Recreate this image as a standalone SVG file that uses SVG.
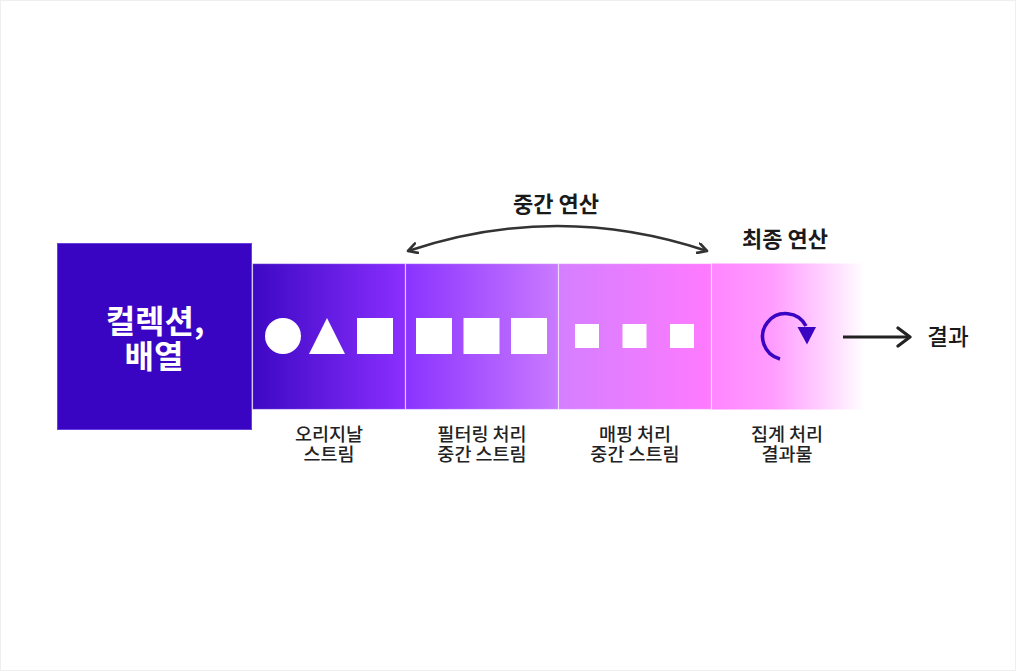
<svg xmlns="http://www.w3.org/2000/svg" width="1016" height="671" viewBox="0 0 1016 671">
  <defs>
    <linearGradient id="g1" x1="0" y1="0" x2="1" y2="0">
      <stop offset="0" stop-color="#3D08C4"/>
      <stop offset="1" stop-color="#8B2FFF"/>
    </linearGradient>
    <linearGradient id="g2" x1="0" y1="0" x2="1" y2="0">
      <stop offset="0" stop-color="#8A33FF"/>
      <stop offset="1" stop-color="#CA7AFF"/>
    </linearGradient>
    <linearGradient id="g3" x1="0" y1="0" x2="1" y2="0">
      <stop offset="0" stop-color="#D47FFF"/>
      <stop offset="1" stop-color="#FF7AFF"/>
    </linearGradient>
    <linearGradient id="g4" x1="0" y1="0" x2="1" y2="0">
      <stop offset="0" stop-color="#FF85FF"/>
      <stop offset="0.4" stop-color="#FF9CFF"/>
      <stop offset="0.75" stop-color="#FFD4FF"/>
      <stop offset="1" stop-color="#FFFFFF"/>
    </linearGradient>
    <marker id="chev" viewBox="0 0 12 12" refX="10" refY="6" markerWidth="12" markerHeight="12" markerUnits="userSpaceOnUse" orient="auto-start-reverse">
      <path d="M1,1 L10,6 L1,11" fill="none" stroke="#333" stroke-width="2.6" stroke-linecap="round" stroke-linejoin="round"/>
    </marker>
    <marker id="chev2" viewBox="0 0 16 22" refX="14" refY="11" markerWidth="16" markerHeight="22" markerUnits="userSpaceOnUse" orient="auto">
      <path d="M2,2 L14,11 L2,20" fill="none" stroke="#222" stroke-width="3.2" stroke-linecap="round" stroke-linejoin="round"/>
    </marker>
    <style>
      .seg { stroke: rgba(255,255,255,0.55); stroke-width: 1.2; }
      .shape { fill: #FFFFFF; }
      .lbl { font-family: "Noto Sans CJK KR", "Noto Sans", sans-serif; font-size: 18.5px; fill: #222222; text-anchor: middle; font-weight: 500; }
      .head { font-family: "Noto Sans CJK KR", "Noto Sans", sans-serif; font-size: 22px; fill: #1A1A1A; text-anchor: middle; font-weight: 700; }
      .res { font-family: "Noto Sans CJK KR", "Noto Sans", sans-serif; font-size: 22.5px; fill: #1A1A1A; text-anchor: middle; font-weight: 500; }
      .title { font-family: "Noto Sans CJK KR", "Noto Sans", sans-serif; font-size: 32px; fill: #FFFFFF; text-anchor: middle; font-weight: 700; }
    </style>
  </defs>

  <rect x="0.5" y="0.5" width="1015" height="670" fill="#FFFFFF" stroke="#EFEFEF" stroke-width="1"/>

  <g id="collection">
    <rect x="57.5" y="243.5" width="194" height="186" fill="#3A05C2" stroke="#6A3FE0" stroke-width="1"/>
    <text class="title" x="155" y="333">컬렉션,</text>
    <text class="title" x="154" y="368">배열</text>
  </g>

  <g id="original-stream">
    <rect class="seg" x="252.5" y="263.5" width="153" height="146" fill="url(#g1)"/>
    <circle class="shape" cx="283" cy="336" r="18"/>
    <polygon class="shape" points="327,318 345,354 309,354"/>
    <rect class="shape" x="357" y="318" width="36" height="36"/>
    <text class="lbl" x="329" y="441">오리지날</text>
    <text class="lbl" x="329" y="461">스트림</text>
  </g>

  <g id="filter-stream">
    <rect class="seg" x="405.5" y="263.5" width="153" height="146" fill="url(#g2)"/>
    <rect class="shape" x="416" y="318" width="36" height="36"/>
    <rect class="shape" x="463.5" y="318" width="36" height="36"/>
    <rect class="shape" x="511" y="318" width="36" height="36"/>
    <text class="lbl" x="482" y="441">필터링 처리</text>
    <text class="lbl" x="482" y="461">중간 스트림</text>
  </g>

  <g id="map-stream">
    <rect class="seg" x="558.5" y="263.5" width="153" height="146" fill="url(#g3)"/>
    <rect class="shape" x="575" y="324" width="24" height="24"/>
    <rect class="shape" x="622.5" y="324" width="24" height="24"/>
    <rect class="shape" x="670" y="324" width="24" height="24"/>
    <text class="lbl" x="635" y="441">매핑 처리</text>
    <text class="lbl" x="635" y="461">중간 스트림</text>
  </g>

  <g id="aggregate">
    <rect x="711.5" y="263.5" width="153" height="146" fill="url(#g4)"/>
    <line x1="711.5" y1="263.5" x2="711.5" y2="409.5" stroke="rgba(255,255,255,0.6)" stroke-width="1.2"/>
    <path d="M780,358.9 A23,23 0 1 1 806,326" fill="none" stroke="#3A05C2" stroke-width="3.6"/>
    <polygon points="797.5,327 816,327 807,344.5" fill="#3A05C2"/>
    <text class="lbl" x="787" y="441">집계 처리</text>
    <text class="lbl" x="787" y="461">결과물</text>
  </g>

  <g id="result">
    <text class="res" x="948" y="345">결과</text>
  </g>

  <g id="labels">
    <text class="head" x="556" y="212">중간 연산</text>
    <text class="head" x="785" y="247">최종 연산</text>
  </g>

  <g id="connectors">
    <path d="M408,251 Q557,201 707,251" fill="none" stroke="#333" stroke-width="2.6" marker-start="url(#chev)" marker-end="url(#chev)"/>
    <line x1="843" y1="337" x2="910" y2="337" stroke="#222" stroke-width="3.2" marker-end="url(#chev2)"/>
  </g>
</svg>
